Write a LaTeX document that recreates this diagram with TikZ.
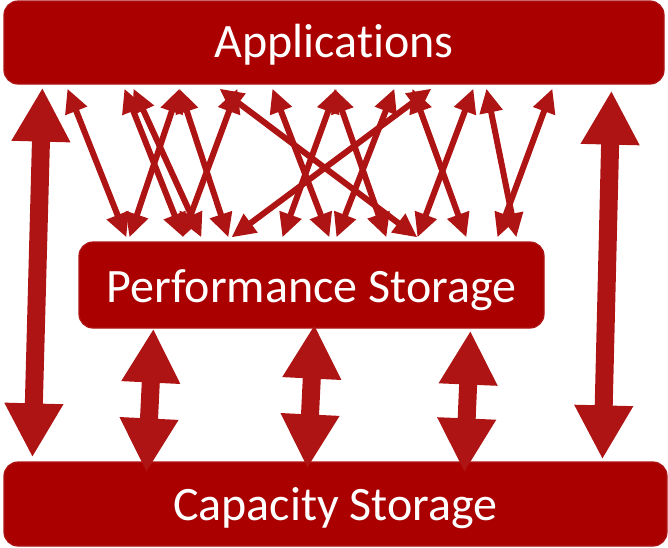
\documentclass[tikz,border=0pt]{standalone}
\usepackage{fontspec}
\setmainfont{Carlito}[Ligatures=NoCommon]
\usetikzlibrary{arrows.meta}

\definecolor{boxred}{RGB}{170,0,0}
\definecolor{linkred}{RGB}{174,20,20}

\begin{document}
\begin{tikzpicture}[
    x=1pt, y=-1pt,
    tier/.style={rectangle, rounded corners=14pt, fill=boxred, draw=linkred, line width=1.2pt,
                 text=white, font=\fontsize{48}{54}\selectfont, inner sep=0pt, text depth=10pt},
    link/.style={linkred, line width=6pt,
                 {Triangle[length=24pt,width=22pt]}-{Triangle[length=24pt,width=22pt]}},
    bulk/.style={linkred, line width=18pt,
                 {Triangle[length=54pt,width=55pt]}-{Triangle[length=54pt,width=55pt]}},
]
\useasboundingbox (0,0) rectangle (668,547);

% Ebenen
\node[tier, minimum width=660pt, minimum height=83pt, text height=39pt] (app) at (334,42.5) {Applications};
\node[tier, minimum width=465pt, minimum height=86pt, text height=44pt] (perf) at (311.5,285) {Performance Storage};
\node[tier, minimum width=663pt, minimum height=84pt, text height=42pt] (cap) at (335.5,504) {Capacity Storage};

% Applications <-> Performance Storage
\draw[link] ([xshift=64pt,yshift=-4pt]app.south west) -- ([xshift=48pt,yshift=4pt]perf.north west);
\draw[link] ([xshift=121pt,yshift=-4pt]app.south west) -- ([xshift=105pt,yshift=4pt]perf.north west);
\draw[link] ([xshift=130pt,yshift=-4pt]app.south west) -- ([xshift=123pt,yshift=4pt]perf.north west);
\draw[link] ([xshift=176pt,yshift=-4pt]app.south west) -- ([xshift=51pt,yshift=4pt]perf.north west);
\draw[link] ([xshift=176pt,yshift=-4pt]app.south west) -- ([xshift=150pt,yshift=4pt]perf.north west);
\draw[link] ([xshift=234pt,yshift=-4pt]app.south west) -- ([xshift=104pt,yshift=4pt]perf.north west);
\draw[link] ([xshift=216pt,yshift=-4pt]app.south west) -- ([xshift=339pt,yshift=4pt]perf.north west);
\draw[link] ([xshift=428pt,yshift=-4pt]app.south west) -- ([xshift=153pt,yshift=4pt]perf.north west);
\draw[link] ([xshift=269pt,yshift=-4pt]app.south west) -- ([xshift=251pt,yshift=4pt]perf.north west);
\draw[link] ([xshift=333pt,yshift=-4pt]app.south west) -- ([xshift=204pt,yshift=4pt]perf.north west);
\draw[link] ([xshift=331pt,yshift=-4pt]app.south west) -- ([xshift=308pt,yshift=4pt]perf.north west);
\draw[link] ([xshift=391pt,yshift=-4pt]app.south west) -- ([xshift=258pt,yshift=4pt]perf.north west);
\draw[link] ([xshift=409pt,yshift=-4pt]app.south west) -- ([xshift=388pt,yshift=4pt]perf.north west);
\draw[link] ([xshift=470pt,yshift=-4pt]app.south west) -- ([xshift=339pt,yshift=4pt]perf.north west);
\draw[link] ([xshift=483pt,yshift=-4pt]app.south west) -- ([xshift=438pt,yshift=4pt]perf.north west);
\draw[link] ([xshift=549pt,yshift=-4pt]app.south west) -- ([xshift=419pt,yshift=4pt]perf.north west);

% Applications <-> Capacity Storage
\draw[bulk] ([xshift=39pt,yshift=-3pt]app.south west) -- ([xshift=29pt,yshift=4pt]cap.north west);
\draw[bulk] ([xshift=608pt,yshift=-6pt]app.south west) -- ([xshift=599pt,yshift=2pt]cap.north west);

% Performance Storage <-> Capacity Storage
\draw[bulk] ([xshift=75pt]perf.south west) -- ([xshift=143pt,yshift=-11pt]cap.north west);
\draw[bulk] ([xshift=236pt,yshift=4pt]perf.south west) -- ([xshift=304pt,yshift=-7pt]cap.north west);
\draw[bulk] ([xshift=392pt,yshift=-2pt]perf.south west) -- ([xshift=461pt,yshift=-11pt]cap.north west);

\end{tikzpicture}
\end{document}
